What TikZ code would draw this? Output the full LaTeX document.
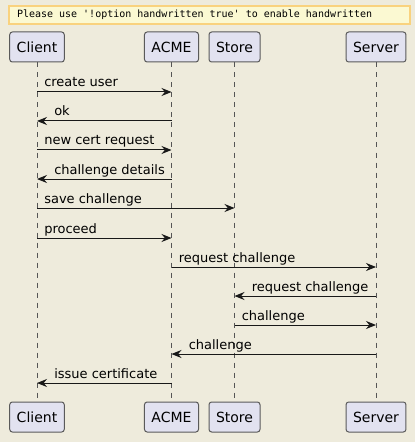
\documentclass[tikz,border=0pt]{standalone}
\usepackage{fontspec}
\setmainfont{DejaVu Sans}
\newfontfamily\notemono{DejaVu Sans Mono}
\usetikzlibrary{arrows.meta}

\definecolor{bgcol}{HTML}{EEEBDC}
\definecolor{partfill}{HTML}{E2E2F0}
\definecolor{partline}{HTML}{5A5A5A}
\definecolor{notefill}{HTML}{FBF9D2}
\definecolor{noteline}{HTML}{F9D27E}
\definecolor{lifecol}{HTML}{555555}
\definecolor{msgcol}{HTML}{181818}

\tikzset{
    party/.style={draw=partline, fill=partfill, rounded corners=2pt, line width=0.75pt,
        inner xsep=5.25pt, minimum height=22.5pt, font=\fontsize{10.5}{12}\selectfont},
    notebox/.style={draw=noteline, fill=notefill, line width=1.5pt, anchor=west,
        inner xsep=6pt, inner ysep=0pt, minimum height=13.5pt,
        font=\notemono\fontsize{7.5}{9}\selectfont},
    lifeline/.style={draw=lifecol, line width=0.6pt, dash pattern=on 3.75pt off 3.75pt},
    msg/.style={draw=msgcol, line width=0.75pt, -{Stealth[length=7.5pt, width=6pt, inset=2.5pt]}},
    lbl/.style={anchor=base west, inner sep=0pt, font=\fontsize{9.75}{12}\selectfont},
    lblr/.style={lbl, xshift=5.25pt, yshift=3.75pt},
    lbll/.style={lbl, xshift=12.75pt, yshift=3.75pt}
}

\begin{document}
\begin{tikzpicture}[x=0.75pt, y=-0.75pt]
    % Background
    \fill[bgcol] (0,0) rectangle (415,442);
    \useasboundingbox (0,0) rectangle (415,442);

    % Note
    \node[notebox] (note) at (8,15) {Please use '!option handwritten true' to enable handwritten\kern22.5pt};

    % Participants, top and bottom
    \node[party] (client) at (37,47) {Client};
    \node[party] (acme) at (171.5,47) {ACME};
    \node[party] (store) at (234.5,47) {Store};
    \node[party] (server) at (376,47) {Server};
    \node[party] (clientB) at (37,417) {Client};
    \node[party] (acmeB) at (171.5,417) {ACME};
    \node[party] (storeB) at (234.5,417) {Store};
    \node[party] (serverB) at (376,417) {Server};

    % Lifelines
    \draw[lifeline] (client) -- (clientB);
    \draw[lifeline] (acme) -- (acmeB);
    \draw[lifeline] (store) -- (storeB);
    \draw[lifeline] (server) -- (serverB);

    % Message rows
    \coordinate (m1) at (0,92);
    \coordinate (m2) at (0,121);
    \coordinate (m3) at (0,150);
    \coordinate (m4) at (0,179);
    \coordinate (m5) at (0,208);
    \coordinate (m6) at (0,238);
    \coordinate (m7) at (0,267);
    \coordinate (m8) at (0,296);
    \coordinate (m9) at (0,325);
    \coordinate (m10) at (0,354);
    \coordinate (m11) at (0,383);

    % Messages
    \draw[msg] (client |- m1) -- (acme |- m1);
    \node[lblr] (l1) at (client |- m1) {create user};
    \draw[msg] (acme |- m2) -- (client |- m2);
    \node[lbll] (l2) at (client |- m2) {ok};
    \draw[msg] (client |- m3) -- (acme |- m3);
    \node[lblr] (l3) at (client |- m3) {new cert request};
    \draw[msg] (acme |- m4) -- (client |- m4);
    \node[lbll] (l4) at (client |- m4) {challenge details};
    \draw[msg] (client |- m5) -- (store |- m5);
    \node[lblr] (l5) at (client |- m5) {save challenge};
    \draw[msg] (client |- m6) -- (acme |- m6);
    \node[lblr] (l6) at (client |- m6) {proceed};
    \draw[msg] (acme |- m7) -- (server |- m7);
    \node[lblr] (l7) at (acme |- m7) {request challenge};
    \draw[msg] (server |- m8) -- (store |- m8);
    \node[lbll] (l8) at (store |- m8) {request challenge};
    \draw[msg] (store |- m9) -- (server |- m9);
    \node[lblr] (l9) at (store |- m9) {challenge};
    \draw[msg] (server |- m10) -- (acme |- m10);
    \node[lbll] (l10) at (acme |- m10) {challenge};
    \draw[msg] (acme |- m11) -- (client |- m11);
    \node[lbll] (l11) at (client |- m11) {issue certificate};
\end{tikzpicture}
\end{document}
